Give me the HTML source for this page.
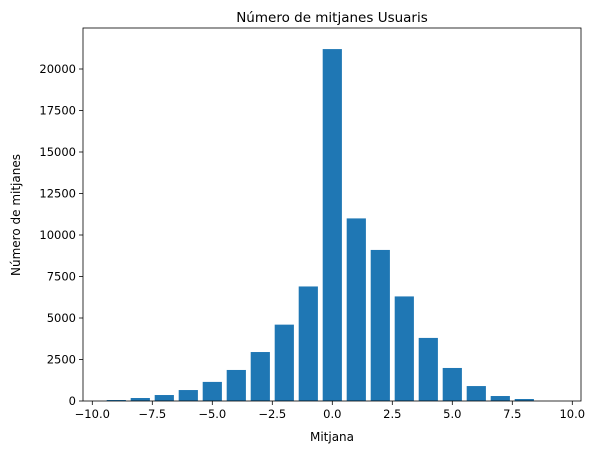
<!DOCTYPE html>
<html><head><meta charset="utf-8"><style>
body{margin:0;background:#fff;}
text{font-family:"DejaVu Sans","Liberation Sans",sans-serif;fill:#000;}
</style></head><body>
<svg id="chart" width="597" height="454" xmlns="http://www.w3.org/2000/svg">
<rect width="597" height="454" fill="#fff"/>
<text x="332" y="22" font-size="13.5" text-anchor="middle">Número de mitjanes Usuaris</text>
<text x="332" y="441" font-size="12" text-anchor="middle">Mitjana</text>
<text transform="translate(20,215) rotate(-90)" font-size="12" text-anchor="middle">Número de mitjanes</text>
<g id="bars"></g><g id="axes"></g>
</svg>
<script>
const categories=[-9,-8,-7,-6,-5,-4,-3,-2,-1,0,1,2,3,4,5,6,7,8];
const counts=[60,180,360,660,1150,1870,2950,4600,6900,21200,11000,9100,6300,3800,1990,900,300,120];
const xTicks=[-10,-7.5,-5,-2.5,0,2.5,5,7.5,10];
const xTickLabels=["−10.0","−7.5","−5.0","−2.5","0.0","2.5","5.0","7.5","10.0"];
const yTicks=[0,2500,5000,7500,10000,12500,15000,17500,20000];
const L=83,R=581,T=28,B=401;
const x=v=>92.3+(v+10)*24;
const y=v=>B-v*0.0166;
const ns="http://www.w3.org/2000/svg";
const bars=document.getElementById('bars'),axes=document.getElementById('axes');
function mk(tag,attrs,parent){const e=document.createElementNS(ns,tag);for(const k in attrs)e.setAttribute(k,attrs[k]);parent.appendChild(e);return e;}
categories.forEach((c,i)=>{
 const r=mk('rect',{x:x(c-0.4),y:y(counts[i]),width:x(c+0.4)-x(c-0.4),height:B-y(counts[i]),fill:'#1f77b4'},bars);
 
 
});
const frame=mk('rect',{x:L,y:T,width:R-L,height:B-T,fill:'none',stroke:'#000','stroke-width':0.8},axes);


xTicks.forEach((t,i)=>{
 mk('line',{x1:x(t),x2:x(t),y1:B,y2:B+4,stroke:'#000','stroke-width':0.8},axes);
 const tx=mk('text',{x:x(t),y:B+17,'font-size':11.5,'text-anchor':'middle'},axes);
 tx.textContent=xTickLabels[i];
 
 
});
yTicks.forEach(t=>{
 mk('line',{x1:L-4,x2:L,y1:y(t),y2:y(t),stroke:'#000','stroke-width':0.8},axes);
 const tx=mk('text',{x:L-7,y:y(t)+4,'font-size':11.5,'text-anchor':'end'},axes);
 tx.textContent=String(t);
 
 
});
</script>
</body></html>
